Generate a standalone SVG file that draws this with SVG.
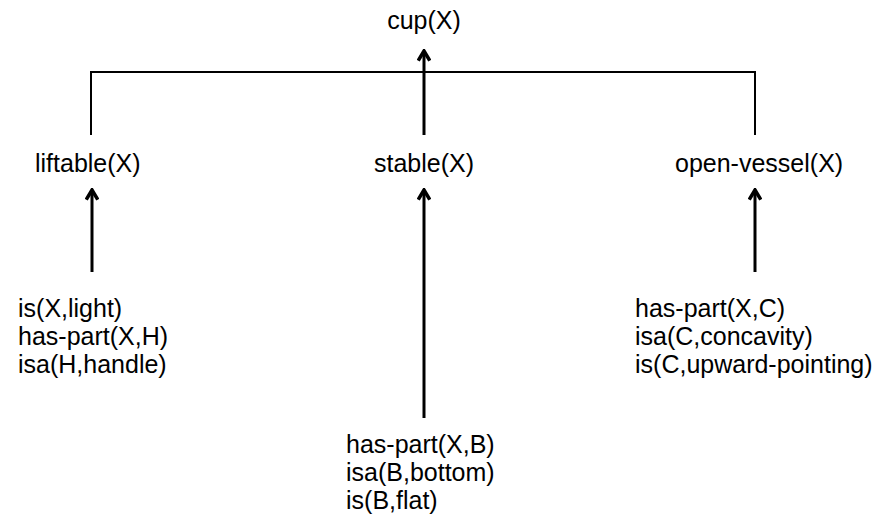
<svg xmlns="http://www.w3.org/2000/svg" width="877" height="517" viewBox="0 0 877 517">
<style>
text{font-family:"Liberation Sans",Arial,sans-serif;font-size:25px;fill:#000}
.c{text-anchor:middle}
.ln{stroke:#000;stroke-width:2;fill:none}
.ar{stroke:#000;stroke-width:3;fill:none}
</style>
<defs>
<marker id="ah" viewBox="0 0 10 10" refX="8.6" refY="5" markerWidth="4.6" markerHeight="4.6" orient="auto" markerUnits="strokeWidth">
<path d="M1.6,0.8 L8.6,5 L1.6,9.2" fill="none" stroke="#000" stroke-width="2.6" stroke-linejoin="miter"/>
</marker>
</defs>
<g id="connectors">
<path class="ln" d="M91,135 V72 H755 V135"/>
<line class="ar" x1="424" y1="135" x2="424" y2="51" marker-end="url(#ah)"/>
<line class="ar" x1="92" y1="272" x2="92" y2="190" marker-end="url(#ah)"/>
<line class="ar" x1="424" y1="418" x2="424" y2="190" marker-end="url(#ah)"/>
<line class="ar" x1="755" y1="272" x2="755" y2="190" marker-end="url(#ah)"/>
</g>
<g id="cup"><text class="c" x="424" y="29">cup(X)</text></g>
<g id="liftable"><text x="35" y="172">liftable(X)</text></g>
<g id="stable"><text class="c" x="424" y="172">stable(X)</text></g>
<g id="open-vessel"><text x="675" y="172">open-vessel(X)</text></g>
<g id="liftable-facts">
<text x="18" y="317">is(X,light)</text>
<text x="18" y="345">has-part(X,H)</text>
<text x="18" y="373">isa(H,handle)</text>
</g>
<g id="stable-facts">
<text x="346" y="453">has-part(X,B)</text>
<text x="346" y="481">isa(B,bottom)</text>
<text x="346" y="509">is(B,flat)</text>
</g>
<g id="open-vessel-facts">
<text x="635" y="317">has-part(X,C)</text>
<text x="635" y="345">isa(C,concavity)</text>
<text x="635" y="373">is(C,upward-pointing)</text>
</g>
</svg>
